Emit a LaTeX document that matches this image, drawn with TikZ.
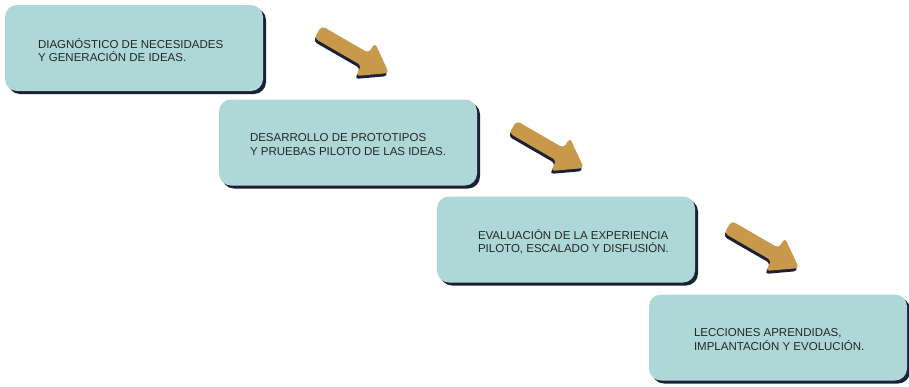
\documentclass[tikz,border=0pt]{standalone}
\usepackage{fontspec}
\setmainfont{Liberation Sans}
\usepackage{tikz}
\usetikzlibrary{shapes.arrows, shadows, positioning}
\definecolor{stepteal}{RGB}{174, 216, 216}
\definecolor{shadownavy}{RGB}{28, 32, 54}
\definecolor{arrowgold}{RGB}{200, 153, 75}

\begin{document}
\begin{tikzpicture}[
    x=1pt, y=-1pt,
    box/.style={rectangle, rounded corners=12pt, fill=stepteal, minimum width=258pt, minimum height=86pt,
        drop shadow={fill=shadownavy, opacity=1, shadow xshift=3pt, shadow yshift=-3pt}},
    boxtext/.style={inner sep=0pt, align=left, yshift=-2pt, text=black!85, font=\fontsize{11.5}{13.5}\selectfont},
    goldarrow/.style={single arrow, rotate=-30, fill=arrowgold, rounded corners=4pt, inner sep=7pt,
        minimum height=82pt, single arrow head extend=12pt, single arrow tip angle=70,
        drop shadow={fill=shadownavy, opacity=1, shadow xshift=-1pt, shadow yshift=-3pt}},
]
\useasboundingbox (0,0) rectangle (909,386);

% Steps (stair)
\node[box] (diag) at (134,48) {};
\node[boxtext, right=33pt of diag.west] (diagtxt) {DIAGNÓSTICO DE NECESIDADES\\Y GENERACIÓN DE IDEAS.};

\node[box] (proto) at (348,142.5) {};
\node[boxtext, right=31pt of proto.west] (prototxt) {DESARROLLO DE PROTOTIPOS\\Y PRUEBAS PILOTO DE LAS IDEAS.};

\node[box] (eval) at (566,239.5) {};
\node[boxtext, right=41pt of eval.west] (evaltxt) {EVALUACIÓN DE LA EXPERIENCIA\\PILOTO, ESCALADO Y DISFUSIÓN.};

\node[box] (lecc) at (778,337.5) {};
\node[boxtext, right=45pt of lecc.west] (lecctxt) {LECCIONES APRENDIDAS,\\IMPLANTACIÓN Y EVOLUCIÓN.};

% Arrows between steps
\node[goldarrow] (arr1) at (349,50) {};
\node[goldarrow] (arr2) at (544,145) {};
\node[goldarrow] (arr3) at (759,245) {};

\end{tikzpicture}
\end{document}
